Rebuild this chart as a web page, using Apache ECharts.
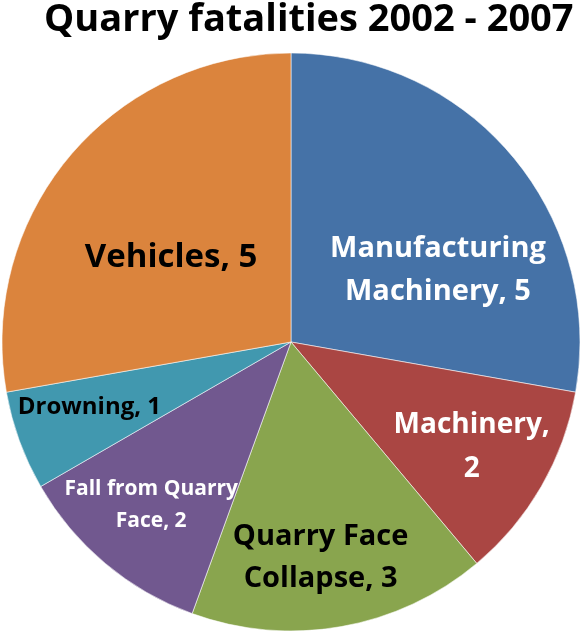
<!DOCTYPE html>
<html><head><meta charset="utf-8">
<script src="https://cdn.jsdelivr.net/npm/echarts@6/dist/echarts.min.js"></script>
<style>html,body{margin:0;padding:0;background:#fff}#c{width:586px;height:637px}</style>
</head><body><div id="c"></div>
<script>
const categories = ["Manufacturing\nMachinery", "Machinery,\n", "Quarry Face\nCollapse", "Fall from Quarry\nFace", "Drowning", "Vehicles"];
const values = [5, 2, 3, 2, 1, 5];
const colors = ["#4572A7", "#AA4643", "#89A54E", "#71588F", "#4198AF", "#DB843D"];
const labelColors = ["#fff", "#fff", "#000", "#fff", "#000", "#000"];
const labelSizes = [29, 28, 29, 21, 24, 33];
const labelLines = [43, 44, 42, 32, 30, 40];
const labelShift = [[34, 23], [53, 31], [4, 70], [-45, 50], [-63, 15], [-7, 10]];
const FONT = 'Open Sans';

const chart = echarts.init(document.getElementById('c'), null, {renderer: 'canvas'});
chart.setOption({
  animation: false,
  title: {
    text: 'Quarry fatalities 2002 - 2007',
    left: 39, top: -4,
    textStyle: {fontFamily: FONT, fontWeight: 'bold', fontSize: 38, color: '#000'}
  },
  series: [{
    type: 'pie',
    center: [291, 342],
    radius: 289,
    startAngle: 90,
    clockwise: true,
    label: {
      position: 'inside',
      fontFamily: FONT,
      fontWeight: 'bold',
      align: 'center',
      formatter: p => {
        const name = categories[p.dataIndex];
        if (name.endsWith('\n')) return name + p.value;
        return name + ', ' + p.value;
      }
    },
    labelLine: {show: false},
    labelLayout: p => ({dx: labelShift[p.dataIndex][0], dy: labelShift[p.dataIndex][1]}),
    itemStyle: {borderColor: 'rgba(255,255,255,0.55)', borderWidth: 1},
    emphasis: {disabled: true},
    data: values.map((v, i) => ({
      value: v,
      name: categories[i],
      itemStyle: {color: colors[i]},
      label: {color: labelColors[i], fontSize: labelSizes[i], lineHeight: labelLines[i]}
    }))
  }]
});
</script></body></html>
